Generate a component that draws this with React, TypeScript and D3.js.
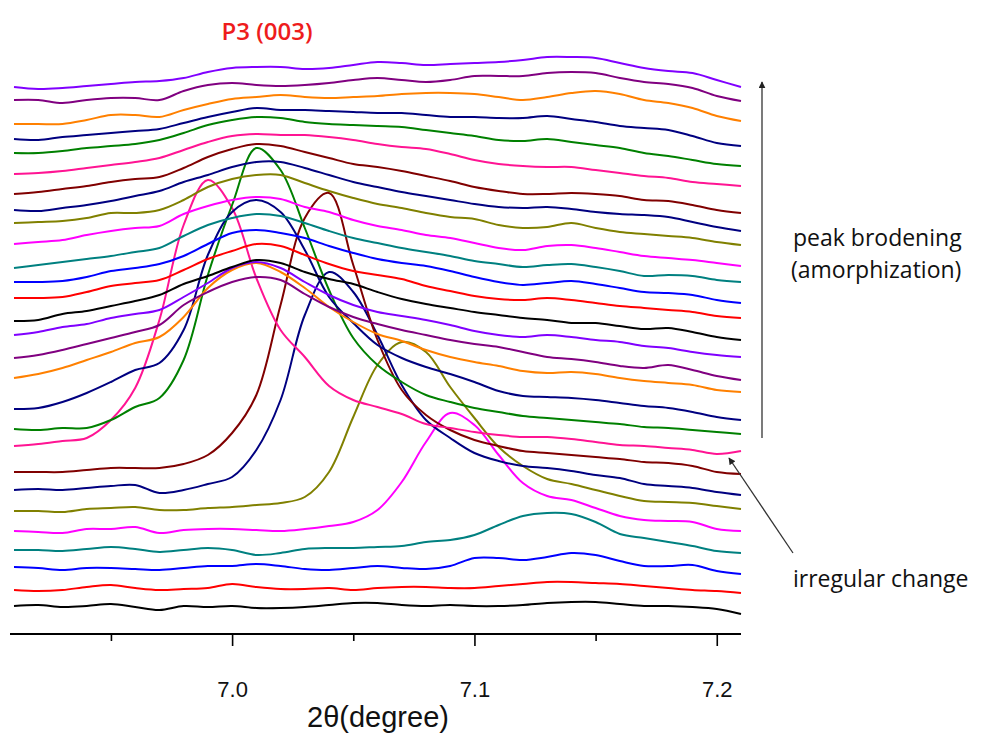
import { useEffect, useRef } from 'react';
import * as d3 from 'd3';

// 2-theta sampling grid (degree)
const twoTheta = [
  6.91, 6.92, 6.93, 6.94, 6.95, 6.96, 6.97, 6.98, 6.99, 7.0, 7.01,
  7.02, 7.03, 7.04, 7.05, 7.06, 7.07, 7.08, 7.09, 7.1, 7.11,
  7.12, 7.13, 7.14, 7.15, 7.16, 7.17, 7.18, 7.19, 7.2, 7.21
];

// stacked intensities (a.u., offset included), bottom scan first
const scans = [
  [28, 29, 27, 28, 30, 27, 24, 28, 27, 28, 26, 26, 27, 29, 31, 31, 29, 28, 29, 28, 28, 29, 31, 32, 32, 30, 28, 28, 27, 25, 20],
  [44, 43, 44, 47, 49, 46, 44, 45, 46, 50, 47, 45, 45, 46, 44, 46, 47, 47, 46, 46, 48, 50, 52, 52, 51, 50, 48, 46, 44, 43, 41],
  [67, 66, 64, 66, 66, 65, 64, 66, 68, 68, 70, 68, 65, 64, 66, 68, 66, 65, 68, 76, 76, 74, 77, 81, 79, 73, 68, 68, 69, 63, 60],
  [84, 84, 83, 85, 87, 85, 82, 84, 86, 84, 79, 81, 85, 86, 86, 87, 88, 92, 94, 99, 109, 118, 121, 120, 112, 100, 96, 92, 88, 83, 81],
  [103, 102, 101, 105, 105, 107, 101, 104, 105, 105, 104, 103, 105, 108, 112, 124, 152, 192, 221, 209, 179, 151, 138, 134, 126, 118, 114, 113, 112, 105, 103],
  [123, 123, 122, 125, 126, 127, 124, 124, 126, 127, 129, 131, 137, 162, 217, 269, 292, 282, 247, 216, 187, 168, 155, 150, 144, 138, 133, 132, 131, 128, 125],
  [144, 145, 144, 146, 148, 149, 141, 144, 150, 157, 184, 234, 319, 362, 342, 299, 249, 214, 196, 181, 173, 168, 166, 163, 159, 156, 150, 148, 146, 142, 139],
  [162, 162, 162, 164, 166, 166, 166, 170, 179, 201, 239, 329, 416, 441, 369, 294, 244, 219, 204, 194, 188, 183, 181, 179, 177, 175, 172, 171, 168, 162, 160],
  [188, 190, 193, 196, 214, 246, 314, 409, 454, 426, 356, 304, 277, 248, 234, 227, 220, 210, 206, 202, 199, 197, 197, 195, 192, 189, 188, 186, 184, 180, 183],
  [205, 204, 206, 206, 214, 227, 236, 274, 359, 429, 486, 464, 406, 344, 296, 269, 252, 239, 232, 226, 222, 218, 216, 214, 212, 210, 207, 206, 204, 202, 200],
  [225, 226, 232, 241, 252, 264, 271, 304, 379, 422, 434, 422, 384, 337, 311, 289, 276, 267, 260, 252, 243, 238, 237, 236, 234, 231, 228, 226, 222, 217, 214],
  [256, 260, 266, 274, 282, 291, 297, 317, 346, 364, 371, 362, 346, 327, 312, 300, 293, 284, 277, 272, 268, 263, 261, 262, 260, 256, 253, 251, 249, 244, 242],
  [276, 279, 284, 290, 296, 302, 309, 329, 342, 352, 357, 354, 340, 327, 317, 310, 304, 299, 294, 290, 287, 282, 277, 275, 272, 268, 266, 269, 264, 258, 254],
  [299, 302, 307, 310, 316, 320, 324, 337, 351, 366, 372, 366, 352, 339, 329, 322, 318, 314, 309, 303, 299, 297, 299, 297, 294, 292, 288, 286, 282, 279, 277],
  [313, 314, 320, 323, 328, 333, 339, 350, 358, 367, 374, 371, 362, 355, 350, 342, 335, 330, 326, 322, 319, 316, 314, 311, 311, 308, 305, 306, 302, 297, 294],
  [336, 336, 337, 342, 348, 351, 354, 364, 375, 383, 390, 388, 379, 370, 363, 359, 355, 348, 343, 338, 335, 334, 336, 334, 331, 328, 326, 324, 322, 318, 316],
  [352, 352, 353, 357, 363, 366, 370, 378, 390, 401, 404, 401, 396, 388, 381, 375, 371, 368, 363, 357, 352, 349, 351, 353, 350, 346, 342, 341, 339, 334, 331],
  [366, 369, 372, 375, 378, 382, 386, 398, 409, 416, 420, 418, 411, 403, 396, 391, 386, 382, 378, 373, 370, 367, 369, 370, 367, 363, 358, 359, 358, 354, 352],
  [390, 392, 394, 399, 403, 406, 408, 420, 428, 434, 437, 435, 427, 422, 414, 408, 404, 399, 396, 391, 386, 384, 388, 389, 386, 382, 378, 376, 374, 371, 368],
  [411, 412, 413, 416, 421, 421, 424, 434, 447, 455, 459, 459, 451, 443, 436, 430, 426, 421, 417, 415, 409, 406, 407, 411, 406, 402, 400, 398, 396, 392, 389],
  [424, 423, 426, 429, 433, 438, 443, 452, 459, 467, 472, 472, 466, 459, 452, 447, 442, 438, 434, 430, 427, 426, 427, 425, 422, 420, 419, 417, 412, 407, 403],
  [440, 442, 445, 448, 452, 455, 457, 466, 477, 485, 490, 488, 482, 476, 470, 467, 463, 458, 453, 447, 443, 440, 440, 441, 440, 438, 434, 433, 429, 424, 421],
  [460, 461, 463, 466, 469, 472, 476, 484, 492, 498, 500, 499, 499, 497, 494, 490, 487, 485, 480, 474, 470, 468, 467, 467, 464, 461, 458, 456, 452, 450, 448],
  [481, 481, 483, 486, 488, 490, 494, 501, 509, 514, 517, 516, 512, 510, 509, 508, 507, 504, 501, 498, 494, 493, 495, 492, 489, 486, 481, 478, 474, 470, 468],
  [495, 494, 497, 499, 501, 503, 505, 511, 517, 522, 526, 524, 524, 523, 522, 521, 521, 519, 517, 517, 516, 516, 518, 515, 512, 508, 506, 504, 498, 491, 488],
  [510, 510, 510, 514, 519, 519, 517, 524, 530, 535, 537, 539, 537, 536, 537, 538, 540, 541, 541, 540, 537, 534, 537, 541, 543, 540, 534, 531, 526, 518, 513],
  [534, 534, 531, 534, 536, 536, 534, 543, 549, 551, 549, 548, 549, 551, 554, 556, 554, 552, 554, 558, 558, 558, 561, 562, 561, 556, 552, 550, 546, 538, 533],
  [547, 545, 546, 548, 550, 552, 553, 556, 562, 566, 567, 567, 565, 566, 569, 572, 571, 569, 570, 571, 572, 574, 577, 577, 576, 571, 566, 563, 561, 554, 547]
];

// colour cycle (repeats every 14 scans)
const palette = [
  '#000000', '#ff0000', '#0000ff', '#008080', '#ff00ff', '#808000', '#000080',
  '#800000', '#ff1493', '#008000', '#000080', '#ff8000', '#800080', '#8000ff'
];

const majorTicks = [7.0, 7.1, 7.2];
const minorTicks = [6.95, 7.05, 7.15];

function App() {
  const ref = useRef(null);

  useEffect(() => {
    const svg = d3.select(ref.current);
    svg.selectAll('*').remove();

    const x = d3.scaleLinear().domain([6.91, 7.21]).range([14, 741]);
    const y = d3.scaleLinear().domain([0, 600]).range([634, 34]);

    const line = d3.line()
      .x((d, i) => x(twoTheta[i]))
      .y(d => y(d))
      .curve(d3.curveCatmullRom.alpha(0.5));

    svg.append('g')
      .selectAll('path')
      .data(scans)
      .enter()
      .append('path')
      .attr('d', d => line(d))
      .attr('fill', 'none')
      .attr('stroke', (d, i) => palette[i % palette.length])
      .attr('stroke-width', 2)
      .attr('stroke-linejoin', 'round');

    // x axis
    const axisY = y(0);
    const major = svg.append('g')
      .attr('transform', `translate(0,${axisY})`)
      .call(d3.axisBottom(x).tickValues(majorTicks).tickSize(12).tickSizeOuter(0).tickPadding(35).tickFormat(d3.format('.1f')));
    major.select('.domain').attr('stroke-width', 2.2).attr('d', `M10,0H741`);
    major.selectAll('.tick line').attr('stroke-width', 1.6);
    major.selectAll('.tick text')
      .style('font-family', '"Liberation Sans", Arial, sans-serif')
      .style('font-size', '22px')
      .attr('fill', '#111');

    const minor = svg.append('g')
      .attr('transform', `translate(0,${axisY})`)
      .call(d3.axisBottom(x).tickValues(minorTicks).tickSize(7).tickFormat(() => ''));
    minor.select('.domain').remove();
    minor.selectAll('.tick line').attr('stroke-width', 1.6);

    svg.append('text')
      .attr('x', 378)
      .attr('y', 727)
      .attr('text-anchor', 'middle')
      .style('font-family', '"Liberation Sans", Arial, sans-serif')
      .style('font-size', '29px')
      .attr('fill', '#111')
      .text('2θ(degree)');

    // annotations
    svg.append('text')
      .attr('x', 267)
      .attr('y', 40)
      .attr('text-anchor', 'middle')
      .style('font-family', '"Open Sans", sans-serif')
      .style('font-weight', 600)
      .style('font-size', '24px')
      .attr('fill', '#ee1c1c')
      .text('P3 (003)');

    const defs = svg.append('defs');
    defs.append('marker')
      .attr('id', 'head')
      .attr('viewBox', '0 0 10 10')
      .attr('refX', 9)
      .attr('refY', 5)
      .attr('markerWidth', 7)
      .attr('markerHeight', 7)
      .attr('markerUnits', 'userSpaceOnUse')
      .attr('orient', 'auto')
      .append('path')
      .attr('d', 'M0,0L10,5L0,10z')
      .attr('fill', '#222');

    svg.append('line')
      .attr('x1', 762).attr('y1', 438)
      .attr('x2', 762).attr('y2', 82)
      .attr('stroke', '#333')
      .attr('stroke-width', 1.3)
      .attr('marker-end', 'url(#head)');

    svg.append('line')
      .attr('x1', 793).attr('y1', 553)
      .attr('x2', 729).attr('y2', 458)
      .attr('stroke', '#333')
      .attr('stroke-width', 1.3)
      .attr('marker-end', 'url(#head)');

    const note = svg.append('g')
      .style('font-family', '"Open Sans", sans-serif')
      .style('font-size', '23px')
      .attr('fill', '#111');
    note.append('text').attr('x', 793).attr('y', 246).text('peak brodening');
    note.append('text').attr('x', 791).attr('y', 278).text('(amorphization)');
    note.append('text').attr('x', 793).attr('y', 587).text('irregular change');
  }, []);

  return (
    <svg
      ref={ref}
      width={985}
      height={734}
      style={{ position: 'absolute', left: 0, top: 0, background: '#fff' }}
    />
  );
}

export default App;
